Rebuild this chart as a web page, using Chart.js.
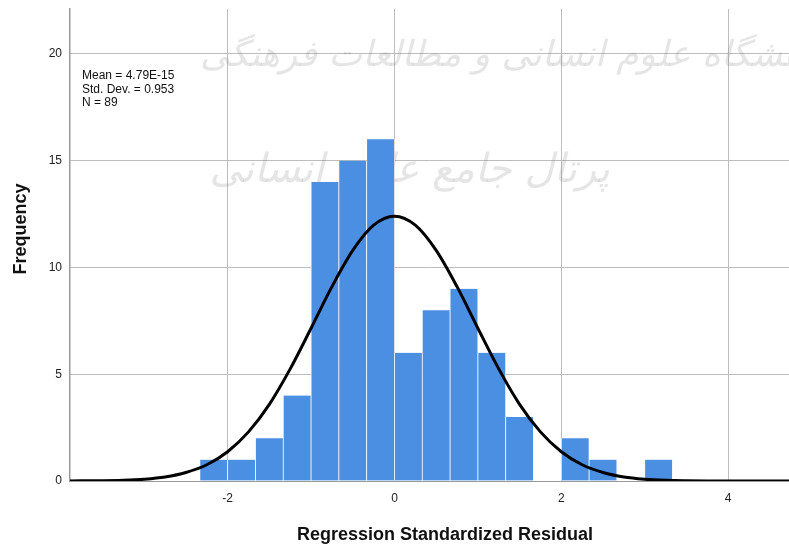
<!DOCTYPE html>
<html>
<head>
<meta charset="utf-8">
<script src="https://cdn.jsdelivr.net/npm/chart.js@4/dist/chart.umd.min.js"></script>
<style>
  html, body { margin: 0; padding: 0; background: #fff; }
  #wrap { width: 789px; height: 545px; }
</style>
</head>
<body>
<div id="wrap"><canvas id="chart"></canvas></div>
<script>
// histogram bins (centres, width 1/3) and counts
const binCenters = [-2.1667, -1.8333, -1.5, -1.1667, -0.8333, -0.5, -0.1667, 0.1667, 0.5,
  0.8333, 1.1667, 1.5, 1.8333, 2.1667, 2.5, 2.8333, 3.1667];
const counts = [1, 1, 2, 4, 14, 15, 16, 6, 8, 9, 6, 3, 0, 2, 1, 0, 1];

// normal curve
const curveX = [-3.89, -3.5, -3.25, -3, -2.75, -2.5, -2.25, -2, -1.75, -1.5, -1.25, -1, -0.75, -0.5, -0.25,
  0, 0.25, 0.5, 0.75, 1, 1.25, 1.5, 1.75, 2, 2.25, 2.5, 2.75, 3, 3.25, 3.5, 3.75, 4, 4.73];
const curveY = [0.003, 0.015, 0.037, 0.087, 0.19, 0.40, 0.76, 1.37, 2.30, 3.59, 5.25, 7.15, 9.10, 10.80, 11.98,
  12.40, 11.98, 10.80, 9.10, 7.15, 5.25, 3.59, 2.30, 1.37, 0.76, 0.40, 0.19, 0.087, 0.037, 0.015, 0.005, 0.002, 0];

const xTicks = [-2, 0, 2, 4];
const yTicks = [0, 5, 10, 15, 20];
const statLines = ["Mean = 4.79E-15", "Std. Dev. = 0.953", "N = 89"];
const xTitle = "Regression Standardized Residual";
const yTitle = "Frequency";
const watermark = ["پژوهشگاه علوم انسانی و مطالعات فرهنگی", "پرتال جامع علوم انسانی"];

const FONT = '"Liberation Sans", Arial, sans-serif';

const extras = {
  id: "extras",
  beforeDatasetsDraw(chart) {
    const ctx = chart.ctx;
    ctx.save();
    ctx.fillStyle = "rgba(110,110,110,0.18)";
    ctx.textAlign = "right";
    ctx.direction = "rtl";
    ctx.font = 'italic 36px "DejaVu Sans", sans-serif';
    ctx.fillText(watermark[0], 850, 66);
    ctx.font = 'italic 40px "DejaVu Sans", sans-serif';
    ctx.fillText(watermark[1], 610, 182);
    ctx.restore();
  },
  afterDraw(chart) {
    const ctx = chart.ctx;
    ctx.save();
    ctx.fillStyle = "#111";
    ctx.font = "12px " + FONT;
    ctx.textAlign = "left";
    statLines.forEach((t, i) => ctx.fillText(t, 82, 79 + i * 13.5));

    ctx.font = "bold 18px " + FONT;
    ctx.textAlign = "center";
    ctx.textBaseline = "middle";
    ctx.fillText(xTitle, 445, 535);
    ctx.translate(21, 229);
    ctx.rotate(-Math.PI / 2);
    ctx.fillText(yTitle, 0, 0);
    ctx.restore();
  }
};

new Chart(document.getElementById("chart"), {
  data: {
    datasets: [
      {
        type: "line",
        data: curveX.map((x, i) => ({ x, y: curveY[i] })),
        borderColor: "#000",
        borderWidth: 3,
        pointRadius: 0,
        cubicInterpolationMode: "monotone",
        order: 1
      },
      {
        type: "bar",
        data: binCenters.map((x, i) => ({ x, y: counts[i] })),
        backgroundColor: "#4a8fe2",
        borderColor: "rgba(255,255,255,0.9)",
        borderWidth: { left: 0.75, right: 0.75, top: 0, bottom: 0 },
        borderSkipped: false,
        barPercentage: 1,
        categoryPercentage: 1,
        order: 2
      }
    ]
  },
  options: {
    responsive: true,
    maintainAspectRatio: false,
    animation: false,
    layout: { padding: { top: 9, right: 0, left: 0, bottom: 0 } },
    plugins: { legend: { display: false }, tooltip: { enabled: false } },
    scales: {
      x: {
        type: "linear",
        min: -3.89,
        max: 4.73,
        offset: false,
        afterBuildTicks: (s) => { s.ticks = xTicks.map(v => ({ value: v })); },
        afterFit: (s) => { s.height = 64; s.paddingLeft = 0; s.paddingRight = 0; },
        grid: { color: "#bdbdbd", lineWidth: 1, drawTicks: false, offset: false },
        border: { color: "#999", width: 1 },
        ticks: { color: "#222", padding: 10, font: { size: 12, family: FONT } }
      },
      y: {
        min: 0,
        max: 22.1,
        afterBuildTicks: (s) => { s.ticks = yTicks.map(v => ({ value: v })); },
        afterFit: (s) => { s.width = 70; s.paddingTop = 0; s.paddingBottom = 0; },
        grid: { color: "#bdbdbd", lineWidth: 1, drawTicks: false },
        border: { color: "#999", width: 1.5 },
        ticks: { color: "#222", padding: 8, font: { size: 12, family: FONT } }
      }
    }
  },
  plugins: [extras]
});
</script>
</body>
</html>
